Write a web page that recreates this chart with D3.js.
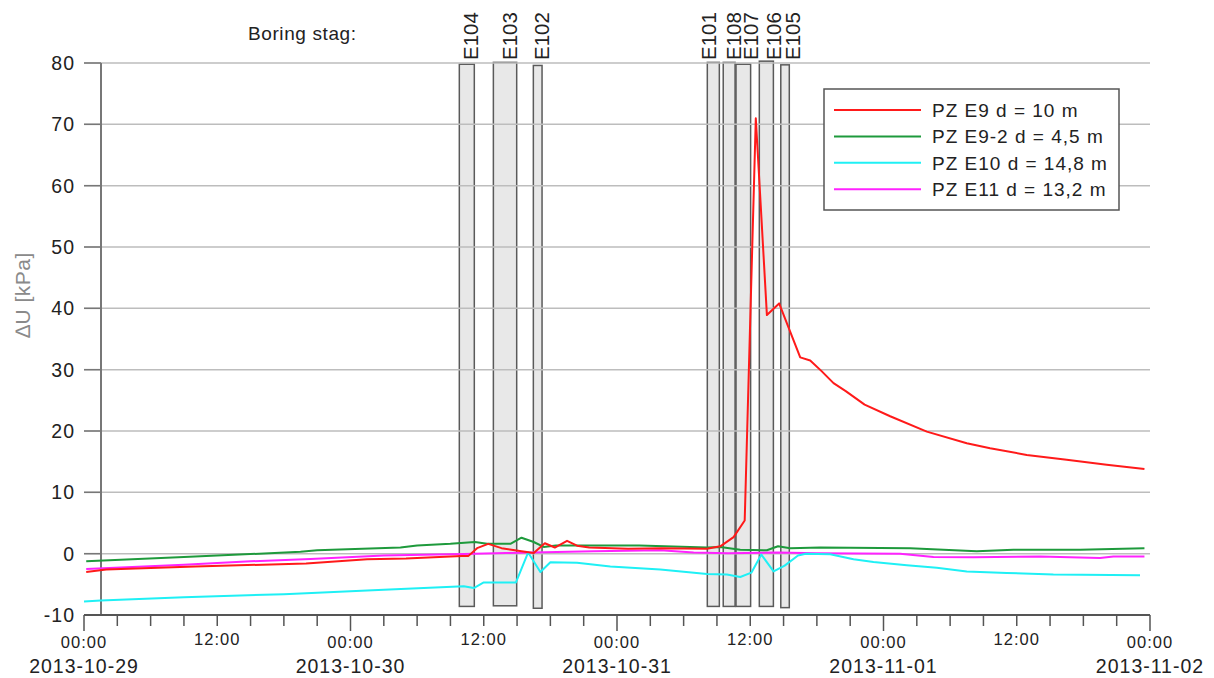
<!DOCTYPE html>
<html>
<head>
<meta charset="utf-8">
<script src="https://cdn.jsdelivr.net/npm/d3@7"></script>
<style>
  body { margin: 0; background: #fff; }
  svg text { font-family: "Liberation Sans", Arial, sans-serif; fill: #222; }
</style>
</head>
<body>
<div id="chart"></div>
<script>
// Boreholes (drilling periods)
const boreNames = ["E104", "E103", "E102", "E101", "E108", "E107", "E106", "E105"];
const boreStart = ["2013-10-30 09:48", "2013-10-30 12:52", "2013-10-30 16:28", "2013-10-31 08:08",
                   "2013-10-31 09:34", "2013-10-31 10:43", "2013-10-31 12:49", "2013-10-31 14:45"];
const boreEnd   = ["2013-10-30 11:09", "2013-10-30 14:58", "2013-10-30 17:15", "2013-10-31 09:13",
                   "2013-10-31 10:38", "2013-10-31 12:02", "2013-10-31 14:05", "2013-10-31 15:31"];
const boreTop    = [79.8, 80.1, 79.6, 80.1, 80.1, 79.8, 80.3, 79.7];
const boreBottom = [-8.6, -8.5, -8.9, -8.6, -8.6, -8.6, -8.6, -8.8];

// Series: PZ E9 d = 10 m
const e9Time = ["2013-10-29 00:12", "2013-10-29 02:00", "2013-10-29 10:00", "2013-10-29 20:00",
  "2013-10-30 01:30", "2013-10-30 05:00", "2013-10-30 10:00", "2013-10-30 10:36", "2013-10-30 11:24",
  "2013-10-30 12:24", "2013-10-30 13:36", "2013-10-30 14:30", "2013-10-30 15:24", "2013-10-30 16:30",
  "2013-10-30 17:30", "2013-10-30 18:24", "2013-10-30 19:30", "2013-10-30 20:24", "2013-10-30 21:30",
  "2013-10-31 01:00", "2013-10-31 04:00", "2013-10-31 08:06", "2013-10-31 09:18", "2013-10-31 10:30",
  "2013-10-31 11:30", "2013-10-31 12:30", "2013-10-31 13:30", "2013-10-31 14:36", "2013-10-31 16:30",
  "2013-10-31 17:24", "2013-10-31 18:24", "2013-10-31 19:30", "2013-10-31 20:36", "2013-10-31 22:18",
  "2013-11-01 00:36", "2013-11-01 03:54", "2013-11-01 07:30", "2013-11-01 09:36", "2013-11-01 12:54",
  "2013-11-01 16:30", "2013-11-01 20:06", "2013-11-01 23:30"];
const e9Value = [-3.0, -2.6, -2.1, -1.6, -0.9, -0.8, -0.4, -0.4, 0.9, 1.6, 0.9, 0.65, 0.4, 0.1,
  1.7, 1.0, 2.1, 1.3, 1.0, 0.8, 0.9, 0.8, 1.2, 2.7, 5.4, 71.0, 38.9, 40.8, 32.0, 31.5, 29.8, 27.8,
  26.5, 24.3, 22.4, 19.9, 18.0, 17.2, 16.1, 15.3, 14.5, 13.8];

// Series: PZ E9-2 d = 4,5 m
const e92Time = ["2013-10-29 00:12", "2013-10-29 09:00", "2013-10-29 19:30", "2013-10-29 21:00",
  "2013-10-30 04:30", "2013-10-30 06:00", "2013-10-30 09:00", "2013-10-30 11:12", "2013-10-30 12:18",
  "2013-10-30 14:24", "2013-10-30 15:24", "2013-10-30 16:30", "2013-10-30 17:24", "2013-10-30 18:30",
  "2013-10-31 02:00", "2013-10-31 08:06", "2013-10-31 09:18", "2013-10-31 11:06", "2013-10-31 13:30",
  "2013-10-31 14:30", "2013-10-31 15:36", "2013-10-31 18:18", "2013-11-01 02:24", "2013-11-01 08:24",
  "2013-11-01 11:42", "2013-11-01 17:42", "2013-11-01 23:30"];
const e92Value = [-1.25, -0.55, 0.3, 0.55, 1.0, 1.35, 1.6, 1.9, 1.6, 1.6, 2.6, 1.9, 1.1, 1.35,
  1.35, 1.0, 1.1, 0.65, 0.55, 1.2, 0.9, 1.0, 0.9, 0.4, 0.65, 0.65, 0.9];

// Series: PZ E10 d = 14,8 m
const e10Time = ["2013-10-29 00:00", "2013-10-29 01:30", "2013-10-29 09:00", "2013-10-29 18:00",
  "2013-10-30 03:00", "2013-10-30 10:12", "2013-10-30 11:06", "2013-10-30 12:00", "2013-10-30 14:54",
  "2013-10-30 16:00", "2013-10-30 17:06", "2013-10-30 18:00", "2013-10-30 20:24", "2013-10-30 23:24",
  "2013-10-31 03:54", "2013-10-31 08:06", "2013-10-31 09:54", "2013-10-31 11:06", "2013-10-31 12:06",
  "2013-10-31 13:00", "2013-10-31 14:06", "2013-10-31 15:06", "2013-10-31 16:18", "2013-10-31 17:00",
  "2013-10-31 19:12", "2013-10-31 21:18", "2013-10-31 23:06", "2013-11-01 02:06", "2013-11-01 04:48",
  "2013-11-01 07:30", "2013-11-01 11:06", "2013-11-01 15:18", "2013-11-01 23:06"];
const e10Value = [-7.8, -7.65, -7.1, -6.6, -5.9, -5.3, -5.6, -4.7, -4.7, 0.2, -3.0, -1.4, -1.5,
  -2.1, -2.6, -3.3, -3.4, -3.8, -3.1, -0.15, -2.9, -1.95, -0.3, 0.0, -0.1, -0.9, -1.35, -1.9,
  -2.3, -2.9, -3.15, -3.4, -3.5];

// Series: PZ E11 d = 13,2 m
const e11Time = ["2013-10-29 00:12", "2013-10-29 09:00", "2013-10-29 15:00", "2013-10-29 20:24",
  "2013-10-30 03:00", "2013-10-30 10:12", "2013-10-30 14:00", "2013-10-30 21:54", "2013-10-31 03:54",
  "2013-10-31 06:54", "2013-10-31 10:00", "2013-10-31 14:30", "2013-10-31 18:00", "2013-11-01 01:30",
  "2013-11-01 04:30", "2013-11-01 08:06", "2013-11-01 14:06", "2013-11-01 19:30", "2013-11-01 20:42",
  "2013-11-01 23:30"];
const e11Value = [-2.5, -1.8, -1.25, -0.85, -0.3, -0.05, 0.1, 0.4, 0.55, 0.2, 0.05, 0.2, 0.05,
  0.0, -0.55, -0.6, -0.45, -0.7, -0.45, -0.45];

const seriesNames = ["PZ E9 d = 10 m", "PZ E9-2 d = 4,5 m", "PZ E10 d = 14,8 m", "PZ E11 d = 13,2 m"];
const seriesColors = ["#ff1a1a", "#1e9a3c", "#1ff0f5", "#ff22ff"];
const yTicks = [-10, 0, 10, 20, 30, 40, 50, 60, 70, 80];

const parse = d3.timeParse("%Y-%m-%d %H:%M");
const toPoints = (ts, vs) => ts.map((t, i) => ({ date: parse(t), value: vs[i] }));
const series = [
  toPoints(e9Time, e9Value),
  toPoints(e92Time, e92Value),
  toPoints(e10Time, e10Value),
  toPoints(e11Time, e11Value)
];

// Layout
const width = 1214, height = 678;
const plot = { left: 84, right: 1150, top: 63, bottom: 615 };
const axisX = 101; // vertical y-axis line

const svg = d3.select("#chart").append("svg")
    .attr("width", width)
    .attr("height", height);

const x = d3.scaleTime()
    .domain([parse("2013-10-29 00:00"), parse("2013-11-02 00:00")])
    .range([plot.left, plot.right]);

const y = d3.scaleLinear()
    .domain([-10, 80])
    .range([plot.bottom, plot.top]);

// Borehole bars
const bores = boreNames.map((n, i) => ({
    name: n, start: parse(boreStart[i]), end: parse(boreEnd[i]), top: boreTop[i], bottom: boreBottom[i]
}));

svg.append("g").selectAll("rect")
    .data(bores)
    .enter().append("rect")
    .attr("x", d => x(d.start))
    .attr("y", d => y(d.top))
    .attr("width", d => x(d.end) - x(d.start))
    .attr("height", d => y(d.bottom) - y(d.top))
    .attr("fill", "#e8e8e8")
    .attr("stroke", "#5a5a5a")
    .attr("stroke-width", 1.5);

// Gridlines
svg.append("g").selectAll("line")
    .data(yTicks.filter(v => v > -10))
    .enter().append("line")
    .attr("x1", plot.left).attr("x2", plot.right)
    .attr("y1", d => y(d)).attr("y2", d => y(d))
    .attr("stroke", "#bdbdbd")
    .attr("stroke-width", 1.5);

// Y ticks + labels
const yAxis = svg.append("g");
yAxis.selectAll("line")
    .data(yTicks)
    .enter().append("line")
    .attr("x1", plot.left).attr("x2", axisX)
    .attr("y1", d => y(d)).attr("y2", d => y(d))
    .attr("stroke", "#777")
    .attr("stroke-width", 1.5);
yAxis.selectAll("text")
    .data(yTicks)
    .enter().append("text")
    .attr("x", 75)
    .attr("y", d => y(d))
    .attr("dy", "0.36em")
    .attr("text-anchor", "end")
    .style("font-size", "19.5px")
    .style("letter-spacing", "1px")
    .text(d => d);
yAxis.append("line")
    .attr("x1", axisX).attr("x2", axisX)
    .attr("y1", plot.top).attr("y2", plot.bottom)
    .attr("stroke", "#777")
    .attr("stroke-width", 2);

svg.append("text")
    .attr("transform", "translate(30,295) rotate(-90)")
    .attr("text-anchor", "middle")
    .style("font-size", "21px")
    .style("letter-spacing", "0.5px")
    .style("fill", "#8a8a8a")
    .text("\u2206U [kPa]");

// X axis
const xAxis = svg.append("g");
xAxis.append("line")
    .attr("x1", plot.left).attr("x2", plot.right)
    .attr("y1", plot.bottom).attr("y2", plot.bottom)
    .attr("stroke", "#555")
    .attr("stroke-width", 2);

const ticks3h = d3.timeHour.every(3).range(x.domain()[0], d3.timeHour.offset(x.domain()[1], 1));
xAxis.selectAll("line.tick")
    .data(ticks3h)
    .enter().append("line")
    .attr("class", "tick")
    .attr("x1", d => x(d)).attr("x2", d => x(d))
    .attr("y1", plot.bottom)
    .attr("y2", d => plot.bottom + (d.getHours() === 0 ? 16 : 11))
    .attr("stroke", "#555")
    .attr("stroke-width", 1.5);

const ticks12h = ticks3h.filter(d => d.getHours() % 12 === 0);
xAxis.selectAll("text.time")
    .data(ticks12h)
    .enter().append("text")
    .attr("class", "time")
    .attr("x", d => x(d))
    .attr("y", d => d.getHours() === 0 ? 648 : 645)
    .attr("text-anchor", "middle")
    .style("font-size", "16.5px")
    .style("letter-spacing", "1px")
    .text(d3.timeFormat("%H:%M"));

xAxis.selectAll("text.date")
    .data(ticks12h.filter(d => d.getHours() === 0))
    .enter().append("text")
    .attr("class", "date")
    .attr("x", d => x(d))
    .attr("y", 673)
    .attr("text-anchor", "middle")
    .style("font-size", "19.5px")
    .style("letter-spacing", "1px")
    .text(d3.timeFormat("%Y-%m-%d"));

// Borehole labels
const labelNudge = { E101: -9, E107: 3, E106: 3, E105: 3 };
svg.append("text")
    .attr("x", 248)
    .attr("y", 40)
    .style("font-size", "19px")
    .style("letter-spacing", "0.6px")
    .text("Boring stag:");

svg.append("g").selectAll("text")
    .data(bores)
    .enter().append("text")
    .attr("transform", d => {
        const cx = (x(d.start) + x(d.end)) / 2 + 11.5 + (labelNudge[d.name] || 0);
        return `translate(${cx},60) rotate(-90)`;
    })
    .style("font-size", "20.5px")
    .text(d => d.name);

// Series lines
const line = d3.line()
    .x(d => x(d.date))
    .y(d => y(d.value));

svg.append("g").selectAll("path")
    .data([3, 2, 1, 0])
    .enter().append("path")
    .attr("d", i => line(series[i]))
    .attr("fill", "none")
    .attr("stroke", i => seriesColors[i])
    .attr("stroke-width", 2)
    .attr("stroke-linejoin", "round");

// Legend
const legend = svg.append("g");
legend.append("rect")
    .attr("x", 824).attr("y", 89)
    .attr("width", 295).attr("height", 121)
    .attr("fill", "#fff")
    .attr("stroke", "#555")
    .attr("stroke-width", 1.5);

const rows = legend.selectAll("g.row")
    .data(seriesNames)
    .enter().append("g")
    .attr("class", "row")
    .attr("transform", (d, i) => `translate(0,${110 + i * 26.4})`);
rows.append("line")
    .attr("x1", 834).attr("x2", 921)
    .attr("stroke", (d, i) => seriesColors[i])
    .attr("stroke-width", 2);
rows.append("text")
    .attr("x", 932)
    .attr("dy", "0.36em")
    .style("font-size", "19px")
    .style("letter-spacing", "1px")
    .text(d => d);
</script>
</body>
</html>
